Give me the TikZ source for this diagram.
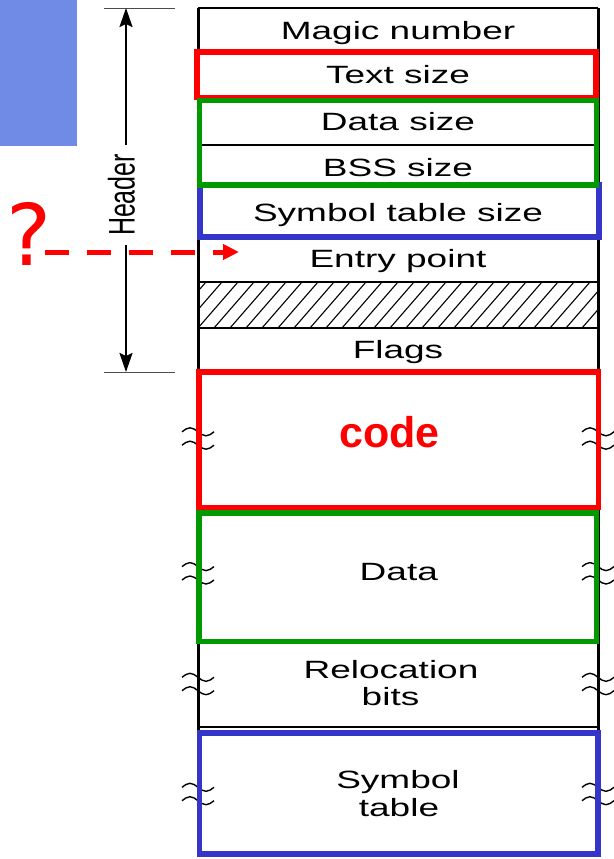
\documentclass[tikz,border=0pt]{standalone}
\usepackage{fontspec}
\setmainfont{Liberation Sans}
\newfontfamily\qfont{DejaVu Sans}
\usetikzlibrary{arrows.meta}
% field labels are set wide, as in the original layout
\newcommand\wtext[1]{\scalebox{1.48}[1]{#1}}
\definecolor{hred}{HTML}{FF0000}
\definecolor{hgreen}{HTML}{009900}
\definecolor{hblue}{HTML}{3535C9}
\definecolor{patch}{HTML}{6F8BE6}
\begin{document}
\begin{tikzpicture}[x=1pt,y=-1pt,
  lbl/.style={anchor=base,inner sep=0pt,font=\fontsize{25}{30}\selectfont},
  sepline/.style={line width=2pt},
  colline/.style={line width=3pt},
  colbox/.style={line width=5.5pt},
  tickline/.style={line width=0.9pt,black!70},
  dimarrow/.style={line width=2pt,-{Stealth[length=19pt,width=13pt,inset=3pt]}},
  qarrow/.style={hred,line width=5pt,dash pattern=on 23.5pt off 18.5pt,
                 -{Triangle[length=16pt,width=15pt]}},
  brk/.pic={
    \draw[line width=1.4pt] (-16,-6.7) sin (-8,-10.7) cos (0,-6.7) sin (8,-2.7) cos (16,-6.7);
    \draw[line width=1.4pt] (-16,6.7) sin (-8,2.7) cos (0,6.7) sin (8,10.7) cos (16,6.7);
  }]
\fill[white] (0,0) rectangle (613,859);
\useasboundingbox (0,0) rectangle (613,859);

% corner patch
\fill[patch] (0,0) rectangle (77,145.5);

% file layout column
\draw[colline] (198,8) -- (198,857);
\draw[colline] (598,8) -- (598,857);
\foreach \yy in {8,53,100,145,187,238,282,328,372,510,641,727}
  \draw[sepline] (198,\yy) -- (598,\yy);

% unused header word
\begin{scope}
  \clip (198,282) rectangle (598,328);
  \foreach \xx in {150,166,...,600}
    \draw[line width=1.1pt] (\xx,328) -- (\xx+40,282);
\end{scope}

% size breaks on both sides of the variable sections
\foreach \yy in {438.5,573.3,684,794} {
  \pic at (198,\yy) {brk};
  \pic at (598,\yy) {brk};
}

% coloured highlights
\draw[colbox,hblue] (200,185) rectangle (599,237);
\draw[colbox,hblue] (199.7,733) rectangle (598,854);
\draw[colbox,hred] (197,52) rectangle (596,97.5);
\draw[colbox,hred] (199,372) rectangle (598.7,507.5);
\draw[colbox,hgreen] (199.7,100.5) rectangle (596.5,185);
\draw[colbox,hgreen] (199,513) rectangle (596.5,641.5);

% field labels
\node[lbl] (magic) at (398,39.3) {\wtext{Magic number}};
\node[lbl] (tsize) at (398,84) {\wtext{Text size}};
\node[lbl] (dsize) at (398,130) {\wtext{Data size}};
\node[lbl] (bsize) at (398,176) {\wtext{BSS size}};
\node[lbl] (ssize) at (398,221.7) {\wtext{Symbol table size}};
\node[lbl] (entry) at (398,267.3) {\wtext{Entry point}};
\node[lbl] (flags) at (398,358.3) {\wtext{Flags}};
\node[anchor=base,inner sep=0pt,text=hred,font=\fontsize{43}{50}\selectfont\bfseries]
  (code) at (389.5,447) {code};
\node[lbl] (data) at (398.8,580.7) {\wtext{Data}};
\node[lbl] (reloca) at (391,678.3) {\wtext{Relocation}};
\node[lbl] (relocb) at (390.5,705.7) {\wtext{bits}};
\node[lbl] (syma) at (398,788.3) {\wtext{Symbol}};
\node[lbl] (symb) at (399,816) {\wtext{table}};

% header extent
\coordinate (htop) at (126,8);
\coordinate (hbot) at (126,372);
\draw[tickline] (104,8) -- (175,8);
\draw[tickline] (104,372) -- (175,372);
\node[inner xsep=0pt,inner ysep=9pt,font=\fontsize{25}{30}\selectfont]
  (hdr) at (121.5,195) {\rotatebox{90}{\scalebox{1}[1.48]{Header}}};
\draw[dimarrow] (hdr.north -| htop) -- (htop);
\draw[dimarrow] (hdr.south -| hbot) -- (hbot);

% entry point question
\node[anchor=base,inner sep=0pt,text=hred,font=\qfont\fontsize{85}{90}\selectfont]
  (qm) at (29.5,265) {?};
\coordinate (qstart) at (45,252);
\coordinate (qend) at (239,252);
\draw[qarrow] (qstart) -- (qend);
\end{tikzpicture}
\end{document}
